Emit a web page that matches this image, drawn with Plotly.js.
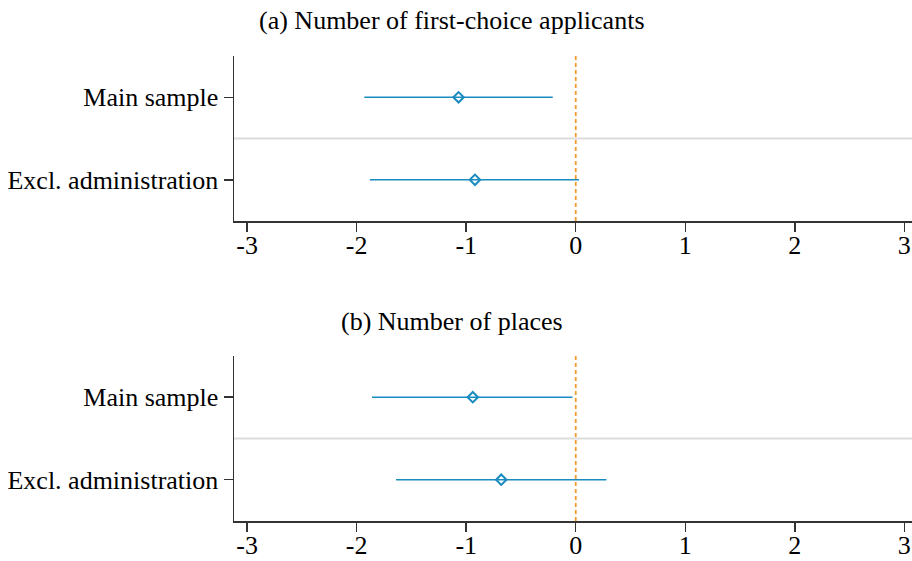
<!DOCTYPE html>
<html>
<head>
<meta charset="utf-8">
<script src="https://cdn.plot.ly/plotly-3.0.1.min.js"></script>
<style>html,body{margin:0;padding:0;background:#fff;}#chart{width:912px;height:561px;}</style>
</head>
<body>
<div id="chart"></div>
<script>
// Data
const groups = ["Main sample", "Excl. administration"];
const groupPos = [1, 0];
const panelTitles = ["(a) Number of first-choice applicants", "(b) Number of places"];
const estA = [-1.07, -0.92];
const loA = [-1.93, -1.88];
const hiA = [-0.21, 0.03];
const estB = [-0.94, -0.68];
const loB = [-1.86, -1.64];
const hiB = [-0.03, 0.28];
const xTicks = [-3, -2, -1, 0, 1, 2, 3];
const xTickLabels = ["-3", "-2", "-1", "0", "1", "2", "3"];

const blue = "#1a8bbf";
const orange = "#f39c2f";
const font = "Liberation Serif, Times New Roman, serif";
const fs = 26;

function trace(est, lo, hi, xa, ya) {
  return {
    type: "scatter", mode: "markers",
    x: est, y: groupPos, xaxis: xa, yaxis: ya,
    error_x: {
      type: "data", symmetric: false,
      array: est.map((e, i) => hi[i] - e),
      arrayminus: est.map((e, i) => e - lo[i]),
      width: 0, thickness: 1.6, color: blue
    },
    marker: {symbol: "diamond-open", size: 8, color: blue, line: {width: 2, color: blue}},
    hoverinfo: "x+y", showlegend: false
  };
}

const xax = (anchor) => ({
  anchor: anchor, domain: [0, 1], range: [-3.12, 3.07],
  tickvals: xTicks, ticktext: xTickLabels,
  showline: true, linecolor: "#333", linewidth: 1.5,
  ticks: "outside", ticklen: 9, tickwidth: 1.5, tickcolor: "#333",
  ticklabelstandoff: -9,
  showgrid: false, zeroline: false,
  tickfont: {family: font, size: fs, color: "#000"}
});
const yax = (anchor, dom) => ({
  anchor: anchor, domain: dom, range: [-0.5, 1.5],
  tickvals: groupPos, ticktext: groups,
  showline: true, linecolor: "#333", linewidth: 1.5,
  ticks: "outside", ticklen: 9, tickwidth: 1.5, tickcolor: "#333",
  showgrid: false, zeroline: false,
  tickfont: {family: font, size: fs, color: "#000"}
});

const layout = {
  width: 912, height: 561,
  margin: {l: 234, r: 0, t: 56, b: 40},
  paper_bgcolor: "#fff", plot_bgcolor: "#fff",
  font: {family: font, color: "#000"},
  xaxis: xax("y"), yaxis: yax("x", [0.645, 1]),
  xaxis2: xax("y2"), yaxis2: yax("x2", [0, 0.355]),
  shapes: [
    {type: "line", xref: "x domain", yref: "y", x0: 0, x1: 1, y0: 0.5, y1: 0.5, line: {color: "#dcdcdc", width: 2}, layer: "below"},
    {type: "line", xref: "x2 domain", yref: "y2", x0: 0, x1: 1, y0: 0.5, y1: 0.5, line: {color: "#dcdcdc", width: 2}, layer: "below"},
    {type: "line", xref: "x", yref: "y domain", x0: 0, x1: 0, y0: 0, y1: 1, line: {color: orange, width: 1.8, dash: "4px,3px"}},
    {type: "line", xref: "x2", yref: "y2 domain", x0: 0, x1: 0, y0: 0, y1: 1, line: {color: orange, width: 1.8, dash: "4px,3px"}}
  ],
  annotations: [
    {text: panelTitles[0], xref: "paper", yref: "paper", x: 0.321, y: 1.077, xanchor: "center", yanchor: "middle", showarrow: false, font: {family: font, size: fs, color: "#000"}},
    {text: panelTitles[1], xref: "paper", yref: "paper", x: 0.321, y: 0.43, xanchor: "center", yanchor: "middle", showarrow: false, font: {family: font, size: fs, color: "#000"}}
  ]
};

Plotly.newPlot("chart", [trace(estA, loA, hiA, "x", "y"), trace(estB, loB, hiB, "x2", "y2")], layout, {displayModeBar: false, staticPlot: true});
</script>
</body>
</html>
